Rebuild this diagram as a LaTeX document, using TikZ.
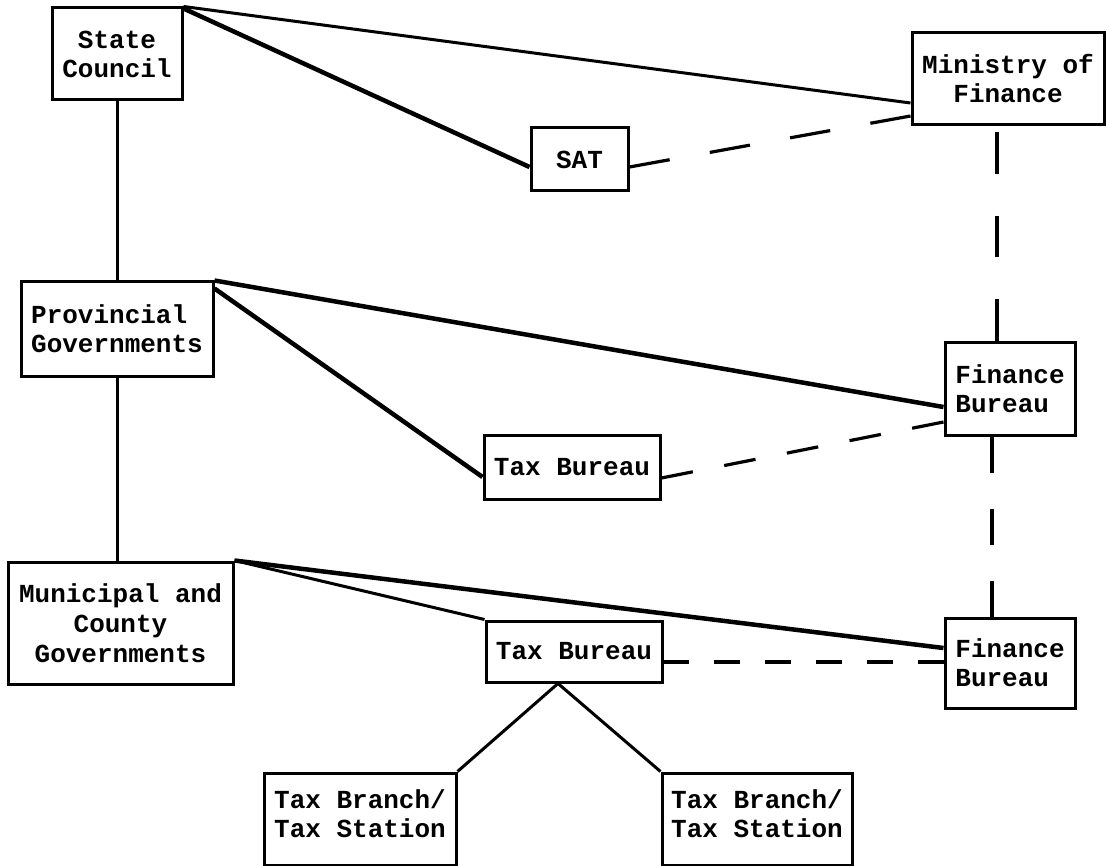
\documentclass[tikz,border=0pt]{standalone}
\usepackage{fontspec}
\usetikzlibrary{calc}
\setmonofont{Liberation Mono}
% dashed link drawn as #3 evenly spaced dashes from coordinate #1 to coordinate #2,
% so that both ends of the link finish with a dash
\newcommand{\drawdashes}[3]{%
  \foreach \k in {1,...,#3}{%
    \pgfmathsetmacro{\ta}{(\k-1)/(#3-0.5)}%
    \pgfmathsetmacro{\tb}{(\k-0.5)/(#3-0.5)}%
    \draw[dashlink] ($(#1)!\ta!(#2)$) -- ($(#1)!\tb!(#2)$);
  }}
\begin{document}
\begin{tikzpicture}[x=1pt,y=-1pt,
  font=\ttfamily\bfseries\fontsize{26}{29}\selectfont,
  box/.style={draw, line width=3pt, rectangle, inner sep=0pt, align=center},
  thin/.style={line width=3pt},
  thick/.style={line width=4.5pt},
  dashlink/.style={line width=3.2pt}]
\useasboundingbox (0,0) rectangle (1107,866);

% organisations
\node[box, minimum width=130pt, minimum height=92pt]  (sc)  at (117,54)    {State\\Council};
\node[box, minimum width=192pt, minimum height=92pt]  (mof) at (1008,79)   {Ministry of\\Finance};
\node[box, minimum width=97pt,  minimum height=63pt]  (sat) at (579.5,159.5) {SAT};
\node[box, minimum width=192pt, minimum height=94pt, align=left] (pg) at (117,329) {Provincial\\Governments};
\node[box, minimum width=130pt, minimum height=93pt, align=left] (fb1) at (1010,388.5) {Finance\\Bureau};
\node[box, minimum width=176pt, minimum height=64pt]  (tb1) at (572,467)   {Tax Bureau};
\node[box, minimum width=225pt, minimum height=122pt, font=\ttfamily\bfseries\fontsize{26}{30}\selectfont] (mcg) at (120.5,623) {Municipal and\\County\\Governments};
\node[box, minimum width=176pt, minimum height=61pt]  (tb2) at (574,651.5) {Tax Bureau};
\node[box, minimum width=130pt, minimum height=90pt, align=left] (fb2) at (1010,663) {Finance\\Bureau};
\node[box, minimum width=192pt, minimum height=92pt, align=left] (tbl) at (360,819) {Tax Branch/\\Tax Station\\[-18pt]};
\node[box, minimum width=190pt, minimum height=92pt, align=left] (tbr) at (757,819) {Tax Branch/\\Tax Station\\[-18pt]};

% end points of the dashed links
\coordinate (satE)  at ([yshift=-7.5pt]sat.east);
\coordinate (mofW)  at ([yshift=-37pt]mof.west);
\coordinate (mofS)  at ([xshift=-11pt,yshift=-6pt]mof.south);
\coordinate (fbaN)  at ([xshift=-11pt]mof.south |- fb1.north);
\coordinate (tbaE)  at ([yshift=-11pt]tb1.east);
\coordinate (fbaW)  at ([yshift=-33.5pt]fb1.west);
\coordinate (fbaS)  at ([xshift=-18pt]fb1.south);
\coordinate (fbbN)  at ([xshift=-18pt]fb1.south |- fb2.north);
\coordinate (tbbE)  at ([yshift=-10.5pt]tb2.east);
\coordinate (fbbW)  at ([yshift=1pt]fb2.west);

% central level
\draw[thin]  (sc.north east) -- ([yshift=-24pt]mof.west);
\draw[thick] ([yshift=-2pt]sc.north east) -- ([yshift=-7.5pt]sat.west);
\drawdashes{satE}{mofW}{4}
\drawdashes{mofS}{fbaN}{3}
\draw[thin] (sc.south) -- (pg.north);

% provincial level
\draw[thick] (pg.north east) -- ([yshift=-18.5pt]fb1.west);
\draw[thick] ([yshift=-8pt]pg.north east) -- ([yshift=-10pt]tb1.west);
\drawdashes{tbaE}{fbaW}{5}
\drawdashes{fbaS}{fbbN}{3}
\draw[thin] (pg.south) -- (pg.south |- mcg.north);

% municipal and county level
\draw[thin]  (mcg.north east) -- (tb2.north west);
\draw[thick] (mcg.north east) -- ([yshift=15pt]fb2.west);
\drawdashes{tbbE}{fbbW}{6}
\draw[thin] ([xshift=-16pt]tb2.south) -- (tbl.north east);
\draw[thin] ([xshift=-16pt]tb2.south) -- (tbr.north west);
\end{tikzpicture}
\end{document}
